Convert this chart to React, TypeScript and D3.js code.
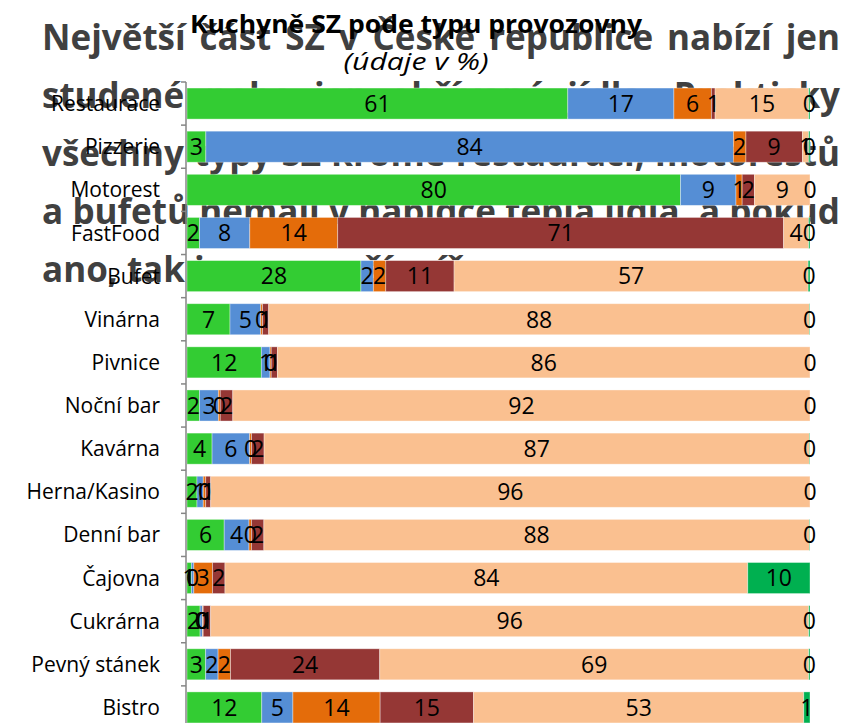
import React, { useRef, useEffect } from 'react';
import * as d3 from 'd3';

const categories = [
  'Restaurace', 'Pizzerie', 'Motorest', 'FastFood', 'Bufet', 'Vinárna', 'Pivnice',
  'Noční bar', 'Kavárna', 'Herna/Kasino', 'Denní bar', 'Čajovna', 'Cukrárna',
  'Pevný stánek', 'Bistro'
];

// segment values per category (percent)
const greenVals = [61, 3, 80, 2, 28, 7, 12, 2, 4, 1.6, 6, 0.7, 2.1, 3, 12];
const blueVals = [17, 84, 9, 8, 2, 5, 1.4, 3, 6, 1.0, 4, 0.4, 0.4, 2, 5];
const orangeVals = [6, 2, 1, 14, 2, 0.3, 0.2, 0.3, 0.3, 0.4, 0.4, 3, 0.1, 2, 14];
const redVals = [0.6, 9, 2, 71, 11, 1, 1, 2, 2, 0.8, 2, 2, 1.2, 24, 15];
const peachVals = [15, 1, 9, 4, 57, 88, 86, 92, 87, 96, 88, 84, 96, 69, 53];
const darkGreenVals = [0.2, 0.2, 0, 0.2, 0.3, 0.1, 0, 0, 0.1, 0, 0.1, 10, 0.2, 0.2, 1];

const seriesKeys = ['green', 'blue', 'orange', 'red', 'peach', 'darkGreen'];
const seriesColors = ['#33CC33', '#558ED5', '#E46C0A', '#953735', '#FAC090', '#00B050'];

const titleText = 'Kuchyně SZ pode typu provozovny';
const subtitleText = '(údaje v %)';

// slide text lying behind the chart
const noteLines = [
  'Největší část SZ v České republice nabízí jen',
  'studené nebo jen ohřívaná jídla. Prakticky',
  'všechny typy SZ kromě restaurací, motorestů',
  'a bufetů nemají v nabídce teplá jídla, a pokud',
  'ano, tak jen v menší míře.'
];

const App = () => {
  const svgRef = useRef<SVGSVGElement>(null);

  useEffect(() => {
    const width = 868;
    const height = 723;
    const svg = d3.select(svgRef.current)
      .attr('width', width)
      .attr('height', height)
      .attr('viewBox', [0, 0, width, height].join(' '));

    svg.selectAll('*').remove();

    // background note text, justified
    const noteLeft = 42;
    const noteRight = 840;
    const baselines = [50, 108, 166, 224, 282];
    const note = svg.append('g')
      .attr('fill', '#404040')
      .attr('font-family', "'Open Sans', sans-serif")
      .attr('font-weight', 700)
      .attr('font-size', 35);

    noteLines.forEach((line, li) => {
      if (li === noteLines.length - 1) {
        note.append('text').attr('x', noteLeft).attr('y', baselines[li]).text(line);
        return;
      }
      const words = line.split(' ');
      const nodes = words.map(w =>
        note.append('text').attr('y', baselines[li]).text(w)
      );
      const widths = nodes.map(n => (n.node() as SVGTextElement).getComputedTextLength());
      const total = d3.sum(widths);
      const gap = (noteRight - noteLeft - total) / (words.length - 1);
      let cx = noteLeft;
      nodes.forEach((n, i) => {
        n.attr('x', cx);
        cx += widths[i] + gap;
      });
    });

    // data
    const table = categories.map((c, i) => ({
      cat: c,
      green: greenVals[i],
      blue: blueVals[i],
      orange: orangeVals[i],
      red: redVals[i],
      peach: peachVals[i],
      darkGreen: darkGreenVals[i]
    }));

    const stack = d3.stack<any>()
      .keys(seriesKeys)
      .offset(d3.stackOffsetExpand);
    const layers = stack(table);

    const x = d3.scaleLinear().domain([0, 1]).range([187, 810]);
    const y = d3.scaleBand()
      .domain(categories)
      .range([82, 729])
      .paddingInner(0.28)
      .paddingOuter(0.14);

    const color = d3.scaleOrdinal<string>().domain(seriesKeys).range(seriesColors);

    // bars
    svg.append('g')
      .selectAll('g')
      .data(layers)
      .join('g')
      .attr('fill', d => color(d.key))
      .selectAll('rect')
      .data(d => d)
      .join('rect')
      .attr('x', d => x(d[0]))
      .attr('y', d => y(d.data.cat)!)
      .attr('width', d => Math.max(0, x(d[1]) - x(d[0])))
      .attr('height', y.bandwidth())
      .attr('stroke', 'rgba(255,255,255,0.45)')
      .attr('stroke-width', 0.8);

    // axis line and ticks at category boundaries
    const axis = svg.append('g').attr('stroke', '#868686').attr('stroke-width', 1.5);
    const [r0, r1] = y.range();
    axis.append('line').attr('x1', 186).attr('x2', 186).attr('y1', r0).attr('y2', r1);
    d3.range(categories.length + 1).forEach(i => {
      const ty = r0 + i * y.step();
      axis.append('line').attr('x1', 181).attr('x2', 186).attr('y1', ty).attr('y2', ty);
    });

    // category labels
    svg.append('g')
      .attr('font-family', "'Open Sans', sans-serif")
      .attr('font-size', 21)
      .attr('fill', '#000')
      .attr('text-anchor', 'end')
      .selectAll('text')
      .data(categories)
      .join('text')
      .attr('x', 160)
      .attr('y', d => y(d)! + y.bandwidth() / 2)
      .attr('dy', '0.36em')
      .text(d => d);

    // data labels
    svg.append('g')
      .attr('font-family', "'Open Sans', sans-serif")
      .attr('font-size', 23)
      .attr('fill', '#000')
      .attr('text-anchor', 'middle')
      .selectAll('g')
      .data(layers)
      .join('g')
      .selectAll('text')
      .data(layer => layer.map(d => ({ d, key: layer.key })))
      .join('text')
      .attr('x', o => x((o.d[0] + o.d[1]) / 2))
      .attr('y', o => y(o.d.data.cat)! + y.bandwidth() / 2)
      .attr('dy', '0.36em')
      .text(o => Math.round(o.d.data[o.key]));

    // titles
    svg.append('text')
      .attr('x', 416)
      .attr('y', 33)
      .attr('text-anchor', 'middle')
      .attr('font-family', "'Open Sans', sans-serif")
      .attr('font-weight', 700)
      .attr('font-size', 25)
      .attr('textLength', 452)
      .attr('lengthAdjust', 'spacingAndGlyphs')
      .text(titleText);

    svg.append('text')
      .attr('x', 416)
      .attr('y', 70)
      .attr('text-anchor', 'middle')
      .attr('font-family', "'Open Sans', sans-serif")
      .attr('font-style', 'italic')
      .attr('font-size', 24)
      .attr('textLength', 145)
      .attr('lengthAdjust', 'spacingAndGlyphs')
      .text(subtitleText);
  }, []);

  return (
    <svg
      ref={svgRef}
      style={{ position: 'absolute', left: 0, top: 0, display: 'block', background: '#fff' }}
    />
  );
};

export default App;
